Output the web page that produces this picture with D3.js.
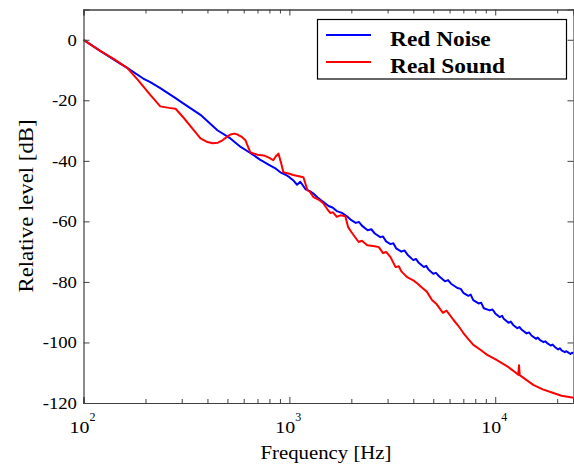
<!DOCTYPE html>
<html>
<head>
<meta charset="utf-8">
<script src="https://cdn.jsdelivr.net/npm/d3@7"></script>
<style>
  html, body { margin: 0; padding: 0; background: #fff; }
  svg { display: block; }
  text { font-family: "Liberation Serif", "Times New Roman", serif; fill: #000; }
</style>
</head>
<body>
<svg id="chart" width="574" height="464"></svg>
<script>
// ---- data ----
const noiseFreq = [100,120,150,163,195,211,236,280,305,370,447,517,580,646,720,800,860,904,960,1000,1050,1090,1130,1200,1250,1309,1367,1450,1550,1620,1700,1800,1910,2000,2100,2180,2250,2400,2500,2600,2765,2850,2950,3100,3200,3300,3500,3620,3750,4000,4120,4250,4500,4620,4750,5000,5150,5350,5700,5900,6100,6550,6800,7000,7400,7600,7820,8300,8550,8800,9400,9700,10000,10500,10800,11000,11600,11900,12220,12800,13100,13500,14200,14600,15000,15800,16100,16500,17200,17500,17860,18600,19000,19500,20200,20600,21000,21800,22100,22500,23200,23600,24000];
const noiseDb   = [0,-3.6,-7.8,-9.3,-12.8,-14.0,-16.0,-19.3,-21.0,-24.8,-29.9,-32.6,-35.4,-37.4,-39.6,-41.4,-42.6,-43.8,-44.6,-45.4,-46.6,-47.9,-46.9,-49.4,-49.9,-50.8,-52.0,-53.4,-54.9,-55.4,-56.6,-57.2,-58.4,-59.6,-60.5,-60.2,-61.4,-62.9,-62.6,-64.0,-65.2,-65.0,-66.6,-67.5,-67.2,-68.9,-70.0,-69.6,-71.0,-72.8,-72.4,-73.7,-75.1,-74.7,-76.0,-77.3,-77.0,-78.2,-79.8,-79.4,-80.6,-82.0,-82.3,-83.6,-84.6,-84.2,-86.0,-87.1,-86.9,-88.7,-89.4,-89.1,-90.4,-91.6,-91.2,-92.2,-93.5,-93.1,-94.2,-95.3,-94.9,-95.9,-97.0,-96.7,-97.7,-98.8,-98.4,-99.2,-99.9,-99.6,-100.2,-101.0,-100.7,-101.5,-102.3,-101.9,-102.6,-103.2,-102.9,-103.2,-103.8,-103.4,-103.6];

const soundFreq = [100,120,140,163,185,211,236,260,280,305,340,370,400,423,450,473,500,517,540,560,590,612,646,700,750,800,835,860,885,910,935,990,1045,1170,1225,1260,1310,1400,1460,1530,1580,1630,1700,1770,1870,1930,2000,2170,2250,2390,2600,2720,2850,2950,3100,3280,3400,3500,3730,4000,4200,4430,4650,4930,5200,5570,5800,6260,6600,6990,7400,7830,8500,9140,10000,11500,12600,12940,13050,13150,15300,17000,19000,21000,24000];
const soundDb   = [0,-3.6,-6.3,-9.3,-13.5,-18.2,-22.0,-22.5,-22.8,-25.6,-29.5,-32.6,-33.8,-34.2,-34.0,-33.2,-32.0,-31.3,-31.0,-31.3,-32.2,-33.2,-37.2,-38.0,-38.2,-39.0,-39.8,-38.5,-37.6,-40.5,-43.8,-44.2,-44.7,-45.4,-49.7,-50.3,-52.0,-53.0,-54.0,-56.0,-57.2,-57.0,-58.5,-58.0,-58.3,-61.9,-63.5,-66.8,-66.4,-67.9,-68.2,-68.5,-70.5,-70.1,-71.8,-75.1,-74.8,-76.5,-78.4,-79.5,-80.6,-82.0,-83.2,-86.0,-87.4,-90.2,-89.5,-92.5,-94.4,-96.8,-98.9,-100.8,-102.5,-104.1,-105.5,-108.0,-110.0,-110.7,-107.5,-110.8,-114.0,-115.5,-116.6,-117.6,-118.3];

const yTicks = [0,-20,-40,-60,-80,-100,-120];
const xMajor = [100,1000,10000];
const xMajorExp = ["2","3","4"];
const xMinor = [200,300,400,500,600,700,800,900,2000,3000,4000,5000,6000,7000,8000,9000,20000];
const seriesNames = ["Red Noise","Real Sound"];
const seriesColors = ["#0000ff","#ff0000"];

// ---- layout ----
const L = 83.5, R = 573.5, T = 9.5, B = 403;
const stretch = 1.17;
const svg = d3.select("#chart");
const x = d3.scaleLog().domain([100, 24000]).range([L, R]);
const y = d3.scaleLinear().domain([-120, 10]).range([B, T]);
const axisColor = "#404040";

function widen(sel, factor) {
  sel.each(function() {
    const w = this.getComputedTextLength();
    d3.select(this).attr("textLength", w * factor).attr("lengthAdjust", "spacingAndGlyphs");
  });
}

svg.append("defs").append("clipPath").attr("id", "clip")
  .append("rect").attr("x", L).attr("y", T).attr("width", R - L).attr("height", B - T);

const line = d3.line().x(d => x(d[0])).y(d => y(d[1]));
const plot = svg.append("g").attr("clip-path", "url(#clip)");
plot.append("path").datum(d3.zip(noiseFreq, noiseDb)).attr("d", line)
  .attr("fill", "none").attr("stroke", seriesColors[0]).attr("stroke-width", 2).attr("stroke-linejoin", "round");
plot.append("path").datum(d3.zip(soundFreq, soundDb)).attr("d", line)
  .attr("fill", "none").attr("stroke", seriesColors[1]).attr("stroke-width", 2).attr("stroke-linejoin", "round");

const bottomAxis = d3.axisBottom(x).tickValues(xMajor).tickSize(-6).tickFormat("");
const bottomMinor = d3.axisBottom(x).tickValues(xMinor).tickSize(-4).tickFormat("");
const topAxis = d3.axisTop(x).tickValues(xMajor).tickSize(-6).tickFormat("");
const topMinor = d3.axisTop(x).tickValues(xMinor).tickSize(-4).tickFormat("");
const leftAxis = d3.axisLeft(y).tickValues(yTicks).tickSize(-6).tickFormat("");
const rightAxis = d3.axisRight(y).tickValues(yTicks).tickSize(-6).tickFormat("");

function styleAxis(g) {
  g.selectAll("path").attr("stroke", axisColor).attr("stroke-width", 1.2);
  g.selectAll("line").attr("stroke", axisColor).attr("stroke-width", 1);
}
svg.append("g").attr("transform", `translate(0,${B})`).call(bottomAxis).call(styleAxis);
svg.append("g").attr("transform", `translate(0,${B})`).call(bottomMinor).call(styleAxis);
svg.append("g").attr("transform", `translate(0,${T})`).call(topAxis).call(styleAxis);
svg.append("g").attr("transform", `translate(0,${T})`).call(topMinor).call(styleAxis);
svg.append("g").attr("transform", `translate(${L},0)`).call(leftAxis).call(styleAxis);
svg.append("g").attr("transform", `translate(${R},0)`).call(rightAxis).call(styleAxis);

const yl = svg.append("g").selectAll("text").data(yTicks).join("text")
  .attr("x", 77).attr("y", d => y(d)).attr("dy", "0.36em")
  .attr("text-anchor", "end").attr("font-size", 16).text(d => d);
widen(yl, stretch);

xMajor.forEach((v, i) => {
  const g = svg.append("g");
  const t = g.append("text").attr("x", x(v) - 14).attr("y", 433).attr("font-size", 17).text("10");
  widen(t, stretch);
  g.append("text").attr("x", x(v) + 6).attr("y", 421).attr("font-size", 12).text(xMajorExp[i]);
});

const xt = svg.append("text").attr("x", 326).attr("y", 459).attr("text-anchor", "middle")
  .attr("font-size", 19).text("Frequency [Hz]");
xt.attr("textLength", 131).attr("lengthAdjust", "spacingAndGlyphs");
const ytl = svg.append("text").attr("transform", "translate(33,206) rotate(-90)")
  .attr("text-anchor", "middle").attr("font-size", 20).text("Relative level [dB]");
ytl.attr("textLength", 173).attr("lengthAdjust", "spacingAndGlyphs");

const lg = svg.append("g");
lg.append("rect").attr("x", 317.5).attr("y", 19.5).attr("width", 249).attr("height", 59.5)
  .attr("fill", "#fff").attr("stroke", "#000").attr("stroke-width", 1.2);
const legendY = [35, 62];
seriesNames.forEach((name, i) => {
  lg.append("line").attr("x1", 326).attr("x2", 371).attr("y1", legendY[i]).attr("y2", legendY[i])
    .attr("stroke", seriesColors[i]).attr("stroke-width", 2);
  const t = lg.append("text").attr("x", 390).attr("y", legendY[i] + 10.5)
    .attr("font-size", 20).attr("font-weight", "bold").text(name);
  widen(t, stretch);
});
</script>
</body>
</html>
